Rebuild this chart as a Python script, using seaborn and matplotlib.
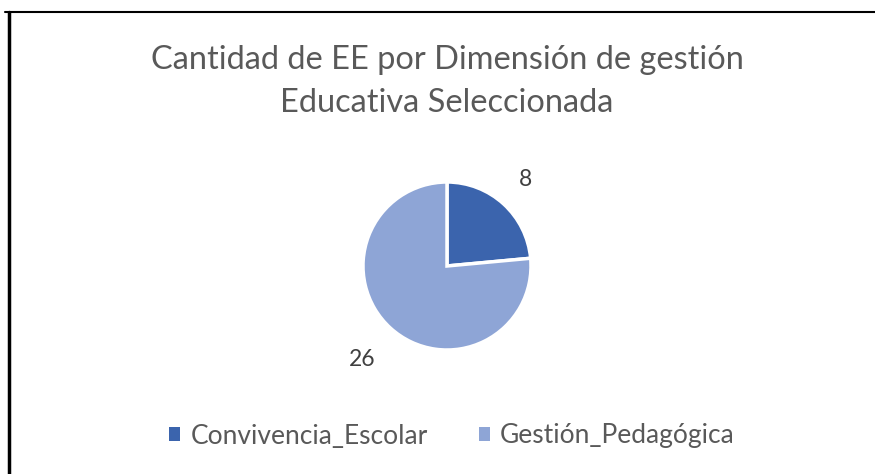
import matplotlib
matplotlib.use("Agg")
import matplotlib.pyplot as plt
import seaborn as sns
import numpy as np
from matplotlib.lines import Line2D
from matplotlib.patches import Patch

categories = ["Convivencia_Escolar", "Gestión_Pedagógica"]
values = [8, 26]
title_lines = ["Cantidad de EE por Dimensión de gestión", "Educativa Seleccionada"]

sns.set_theme(style="white")
plt.rcParams['font.family'] = ['Lato', 'DejaVu Sans']
colors = ["#3B64AD", "#8EA5D6"]
text_color = "#595959"

W, H = 875, 474
fig = plt.figure(figsize=(W / 100, H / 100), dpi=100)
fig.patch.set_facecolor("white")

# pie axes (center ~ (447,266), radius ~84 px)
cx, cy, r = 447, 266, 84
ax = fig.add_axes([(cx - r) / W, (H - cy - r) / H, 2 * r / W, 2 * r / H])
total = sum(values)
wedges, texts, autotexts = ax.pie(
    values, colors=colors, startangle=90, counterclock=False,
    wedgeprops=dict(edgecolor="white", linewidth=2.5),
    autopct=lambda p: f"{int(round(p * total / 100))}",
    pctdistance=1.42, radius=1.0,
    textprops=dict(color="#404040", fontsize=16.5))
label_dist = [1.39, 1.5]
for w, t, d in zip(wedges, autotexts, label_dist):
    ang = np.deg2rad((w.theta1 + w.theta2) / 2)
    t.set_position((d * np.cos(ang), d * np.sin(ang)))
ax.set_aspect("equal")
ax.set_xlim(-1.0, 1.0)
ax.set_ylim(-1.0, 1.0)
ax.axis("off")

# title
fig.text(447 / W, 1 - 60 / H, title_lines[0], ha="center", va="center", fontsize=23.4, color=text_color)
fig.text(447 / W, 1 - 103 / H, title_lines[1], ha="center", va="center", fontsize=23.4, color=text_color)

# legend
handles = [Patch(facecolor=c, edgecolor="none") for c in colors]
leg = fig.legend(handles, categories, loc="center", bbox_to_anchor=(452 / W, 1 - 436 / H),
                 ncol=2, frameon=False, fontsize=19, handlelength=0.42, handleheight=0.42,
                 handletextpad=0.38, columnspacing=1.95)
for t in leg.get_texts():
    t.set_color(text_color)

# border (top and left lines)
fig.add_artist(Line2D([5 / W, 1], [1 - 12 / H, 1 - 12 / H], color="black", lw=1.5, transform=fig.transFigure))
fig.add_artist(Line2D([8.5 / W, 8.5 / W], [0, 1 - 12 / H], color="black", lw=2.5, transform=fig.transFigure))

fig.savefig("out.png", dpi=100)
